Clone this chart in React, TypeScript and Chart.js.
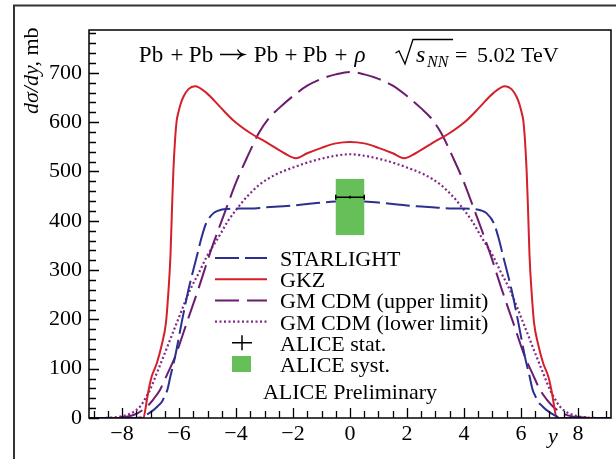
import React, { useEffect, useRef } from 'react';
import { Chart, registerables } from 'chart.js';

Chart.register(...registerables);

// Rapidity distributions of coherent rho photoproduction, Pb+Pb at 5.02 TeV
const starlightY = [-9.2, -7.5, -7.35, -7.2, -7.05, -6.9, -6.75, -6.6, -6.5, -6.41, -6.3, -6.14, -5.91, -5.67, -5.38, -5.2, -5.05, -4.8, -4.6, -4.3, -4.0, -3.5, -3.0, -2.5, -2.0, -1.5, -1.0, -0.5, 0, 0.5, 1.0, 1.5, 2.0, 2.5, 3.0, 3.5, 4.0, 4.3, 4.6, 4.8, 5.05, 5.2, 5.38, 5.67, 5.91, 6.14, 6.3, 6.41, 6.5, 6.6, 6.75, 6.9, 7.05, 7.2, 7.35, 7.5, 9.2];
const starlight = [0, 0, 1, 5, 10, 16, 24, 33, 45, 57, 85, 124, 193, 260, 327, 368, 395, 415, 421, 424, 425, 425, 427, 429, 431, 434, 437, 439, 440, 439, 437, 434, 431, 429, 427, 425, 425, 424, 421, 415, 395, 368, 327, 260, 193, 124, 85, 57, 45, 33, 24, 16, 10, 5, 1, 0, 0];

const gkzY = [-9.2, -7.25, -7.18, -7.12, -7.05, -6.96, -6.78, -6.6, -6.46, -6.38, -6.3, -6.25, -6.2, -6.14, -6.08, -6.03, -5.95, -5.85, -5.67, -5.44, -5.03, -4.56, -4.1, -3.5, -2.9, -2.3, -1.9, -1.5, -1.0, -0.5, 0, 0.5, 1.0, 1.5, 1.9, 2.3, 2.9, 3.5, 4.1, 4.56, 5.03, 5.44, 5.67, 5.85, 5.95, 6.03, 6.08, 6.14, 6.2, 6.25, 6.3, 6.38, 6.46, 6.6, 6.78, 6.96, 7.05, 7.12, 7.18, 7.25, 9.2];
const gkz = [0, 0, 18, 40, 62, 84, 111, 150, 193, 250, 330, 420, 500, 564, 604, 618, 636, 651, 667, 673, 659, 631, 604, 578, 558, 537, 527, 537, 548, 557, 560, 557, 548, 537, 527, 537, 558, 578, 604, 631, 659, 673, 667, 651, 636, 618, 604, 564, 500, 420, 330, 250, 193, 150, 111, 84, 62, 40, 18, 0, 0];

const gmUpperY = [-9.2, -8.6, -8.2, -7.8, -7.48, -7.13, -6.9, -6.67, -6.42, -6.14, -5.73, -5.32, -4.91, -4.6, -4.3, -4.0, -3.6, -3.2, -2.85, -2.5, -2.0, -1.5, -1.0, -0.5, 0, 0.5, 1.0, 1.5, 2.0, 2.5, 2.85, 3.2, 3.6, 4.0, 4.3, 4.6, 4.91, 5.32, 5.73, 6.14, 6.42, 6.67, 6.9, 7.13, 7.48, 7.8, 8.2, 8.6, 9.2];
const gmUpper = [0, 0, 1, 3, 9, 23, 38, 57, 88, 124, 193, 262, 335, 385, 432, 478, 530, 578, 608, 628, 653, 674, 688, 697, 702, 697, 688, 674, 653, 628, 608, 578, 530, 478, 432, 385, 335, 262, 193, 124, 88, 57, 38, 23, 9, 3, 1, 0, 0];

const gmLowerY = [-9.2, -8.7, -8.3, -7.9, -7.6, -7.37, -7.2, -7.02, -6.8, -6.55, -6.08, -5.61, -5.3, -5.03, -4.56, -4.3, -4.0, -3.6, -3.16, -2.6, -2.0, -1.5, -1.0, -0.5, 0, 0.5, 1.0, 1.5, 2.0, 2.6, 3.16, 3.6, 4.0, 4.3, 4.56, 5.03, 5.3, 5.61, 6.08, 6.55, 6.8, 7.02, 7.2, 7.37, 7.6, 7.9, 8.3, 8.7, 9.2];
const gmLower = [0, 0, 1, 5, 12, 23, 38, 57, 88, 124, 193, 260, 295, 327, 372, 398, 422, 450, 474, 494, 508, 518, 526, 532, 535, 532, 526, 518, 508, 494, 474, 450, 422, 398, 372, 327, 295, 260, 193, 124, 88, 57, 38, 23, 12, 5, 1, 0, 0];

// ALICE preliminary measurement at midrapidity
const aliceY = [0];
const aliceHalfWidth = [0.5];
const aliceValue = [448];
const aliceStat = [3];
const aliceSystLow = [371];
const aliceSystHigh = [485];

const xTickLabels = [-8, -6, -4, -2, 0, 2, 4, 6, 8];
const yTickLabels = [0, 100, 200, 300, 400, 500, 600, 700];

const SERIF = '"Liberation Serif", "DejaVu Serif", serif';
const COLORS = {
  starlight: '#2b2f8f',
  gkz: '#d3202a',
  gmUpper: '#6b1c6f',
  gmLower: '#80278a',
  syst: '#66bf59',
};

const toPoints = (xs: number[], ys: number[]) => xs.map((x, i) => ({ x, y: ys[i] }));

const fmtTick = (v: number) => (v < 0 ? '\u2212' + Math.abs(v) : String(v));

export default function App() {
  const ref = useRef<HTMLCanvasElement>(null);

  useEffect(() => {
    const canvas = ref.current;
    if (!canvas) return;

    const decorations = {
      id: 'decorations',
      afterDatasetsDraw(chart: any) {
        const { ctx, chartArea, scales } = chart;
        const xs = scales.x;
        const ys = scales.y;
        ctx.save();
        // systematic box and statistical bar of the measurement
        ctx.beginPath();
        ctx.rect(chartArea.left, chartArea.top, chartArea.right - chartArea.left, chartArea.bottom - chartArea.top);
        ctx.clip();
        aliceY.forEach((yc, i) => {
          const x0 = xs.getPixelForValue(yc - aliceHalfWidth[i]);
          const x1 = xs.getPixelForValue(yc + aliceHalfWidth[i]);
          const yTop = ys.getPixelForValue(aliceSystHigh[i]);
          const yBot = ys.getPixelForValue(aliceSystLow[i]);
          ctx.fillStyle = COLORS.syst;
          ctx.fillRect(x0, yTop, x1 - x0, yBot - yTop);
          const yv = ys.getPixelForValue(aliceValue[i]);
          const xc = xs.getPixelForValue(yc);
          const ya = ys.getPixelForValue(aliceValue[i] + aliceStat[i]);
          const yb = ys.getPixelForValue(aliceValue[i] - aliceStat[i]);
          ctx.strokeStyle = '#000';
          ctx.lineWidth = 1.5;
          ctx.beginPath();
          ctx.moveTo(x0, yv);
          ctx.lineTo(x1, yv);
          ctx.moveTo(x0, yv - 2.5);
          ctx.lineTo(x0, yv + 2.5);
          ctx.moveTo(x1, yv - 2.5);
          ctx.lineTo(x1, yv + 2.5);
          ctx.moveTo(xc, ya);
          ctx.lineTo(xc, yb);
          ctx.stroke();
        });
        ctx.restore();
      },
      afterDraw(chart: any) {
        const { ctx, chartArea, scales } = chart;
        const xs = scales.x;
        const ys = scales.y;
        const { left, right, top, bottom } = chartArea;
        ctx.save();

        // outer panel frame
        ctx.strokeStyle = '#333';
        ctx.lineWidth = 2;
        ctx.beginPath();
        ctx.moveTo(14, chart.height + 2);
        ctx.lineTo(14, 5.5);
        ctx.lineTo(chart.width + 2, 5.5);
        ctx.stroke();

        // plot frame
        ctx.strokeStyle = '#000';
        ctx.lineWidth = 1.5;
        ctx.strokeRect(left, top, right - left, bottom - top);

        // inward tick marks
        ctx.lineWidth = 1.3;
        ctx.beginPath();
        for (let v = 0; v <= ys.max + 1e-6; v += 20) {
          const py = Math.round(ys.getPixelForValue(v)) + 0.5;
          const len = v % 100 === 0 ? 10 : 7;
          ctx.moveTo(left, py);
          ctx.lineTo(left + len, py);
        }
        for (let v = -9; v <= 9 + 1e-6; v += 0.5) {
          const px = Math.round(xs.getPixelForValue(v)) + 0.5;
          const len = Math.abs(v % 2) < 1e-6 ? 10 : 7;
          ctx.moveTo(px, bottom);
          ctx.lineTo(px, bottom - len);
        }
        ctx.stroke();

        ctx.fillStyle = '#000';
        ctx.textBaseline = 'alphabetic';
        ctx.textAlign = 'left';

        // axis titles
        ctx.font = `italic 22px ${SERIF}`;
        ctx.fillText('y', 548, 443);

        ctx.save();
        ctx.translate(38, 114);
        ctx.rotate(-Math.PI / 2);
        ctx.font = `italic 22px ${SERIF}`;
        const lab1 = 'd\u03c3/dy,';
        ctx.fillText(lab1, 0, 0);
        const w1 = ctx.measureText(lab1).width;
        ctx.font = `22px ${SERIF}`;
        ctx.fillText(' mb', w1, 0);
        ctx.restore();

        // reaction, each symbol centred on its slot
        const base = 62;
        const reaction: [string, number, boolean][] = [
          ['Pb', 151, false],
          ['+', 177, false],
          ['Pb', 201, false],
          ['Pb', 266, false],
          ['+', 291, false],
          ['Pb', 315, false],
          ['+', 341, false],
          ['\u03c1', 360, true],
        ];
        ctx.textAlign = 'center';
        reaction.forEach(([t, px, it]) => {
          ctx.font = `${it ? 'italic ' : ''}23px ${SERIF}`;
          ctx.fillText(t, px, base);
        });
        ctx.textAlign = 'left';

        // reaction arrow
        ctx.lineWidth = 1.3;
        ctx.beginPath();
        ctx.moveTo(220, 54.5);
        ctx.lineTo(243.5, 54.5);
        ctx.moveTo(237.5, 49.5);
        ctx.quadraticCurveTo(239.5, 53.5, 244, 54.5);
        ctx.quadraticCurveTo(239.5, 55.5, 237.5, 59.5);
        ctx.stroke();

        // collision energy with a drawn radical sign
        ctx.beginPath();
        ctx.moveTo(395.5, 53);
        ctx.lineTo(399, 51);
        ctx.lineTo(405, 64);
        ctx.lineTo(413, 39.5);
        ctx.lineTo(453, 39.5);
        ctx.stroke();
        ctx.font = `italic 24px ${SERIF}`;
        ctx.fillText('s', 416, base);
        ctx.font = `italic 16px ${SERIF}`;
        ctx.fillText('NN', 427, base + 5);
        ctx.font = `22px ${SERIF}`;
        ctx.fillText('=', 455, base);
        ctx.fillText('5.02 TeV', 477, base);

        // legend
        const ds = chart.data.datasets;
        const rows = [
          { label: 'STARLIGHT', kind: 'line', idx: 0 },
          { label: 'GKZ', kind: 'line', idx: 1 },
          { label: 'GM CDM (upper limit)', kind: 'line', idx: 2 },
          { label: 'GM CDM (lower limit)', kind: 'line', idx: 3 },
          { label: 'ALICE stat.', kind: 'cross', idx: -1 },
          { label: 'ALICE syst.', kind: 'box', idx: -1 },
        ];
        rows.forEach((row, i) => {
          const bl = 266 + i * 21.2;
          const cy = bl - 8;
          if (row.kind === 'line') {
            const d = ds[row.idx];
            ctx.save();
            ctx.strokeStyle = d.borderColor;
            ctx.lineWidth = d.borderWidth;
            ctx.setLineDash(d.borderDash || []);
            ctx.beginPath();
            ctx.moveTo(215, cy);
            ctx.lineTo(267, cy);
            ctx.stroke();
            ctx.restore();
          } else if (row.kind === 'cross') {
            ctx.save();
            ctx.strokeStyle = '#000';
            ctx.lineWidth = 1.5;
            ctx.beginPath();
            ctx.moveTo(232, cy);
            ctx.lineTo(252, cy);
            ctx.moveTo(242, cy - 7.5);
            ctx.lineTo(242, cy + 7.5);
            ctx.stroke();
            ctx.restore();
          } else {
            ctx.fillStyle = COLORS.syst;
            ctx.fillRect(232, cy - 8, 19, 16);
          }
          ctx.fillStyle = '#000';
          ctx.font = `22px ${SERIF}`;
          ctx.textAlign = 'left';
          ctx.fillText(row.label, 280, bl);
        });

        ctx.textAlign = 'center';
        ctx.fillText('ALICE Preliminary', 350, 399);
        ctx.restore();
      },
    };

    const chart = new Chart(canvas, {
      type: 'line',
      data: {
        datasets: [
          {
            label: 'STARLIGHT',
            data: toPoints(starlightY, starlight),
            borderColor: COLORS.starlight,
            borderWidth: 2,
            borderDash: [24, 6],
          },
          {
            label: 'GKZ',
            data: toPoints(gkzY, gkz),
            borderColor: COLORS.gkz,
            borderWidth: 2,
          },
          {
            label: 'GM CDM (upper limit)',
            data: toPoints(gmUpperY, gmUpper),
            borderColor: COLORS.gmUpper,
            borderWidth: 2,
            borderDash: [24, 8],
          },
          {
            label: 'GM CDM (lower limit)',
            data: toPoints(gmLowerY, gmLower),
            borderColor: COLORS.gmLower,
            borderWidth: 2.2,
            borderDash: [2, 2.5],
          },
        ] as any,
      },
      options: {
        responsive: false,
        maintainAspectRatio: false,
        animation: false,
        layout: { padding: { left: 0, right: 5, top: 30, bottom: 0 } },
        elements: {
          point: { radius: 0 },
          line: { cubicInterpolationMode: 'monotone', fill: false },
        },
        plugins: {
          legend: { display: false },
          tooltip: { enabled: false },
          title: { display: false },
        },
        scales: {
          x: {
            type: 'linear',
            min: -9.16,
            max: 9.16,
            grid: { display: false, drawTicks: false },
            border: { display: false },
            afterFit: (s: any) => {
              s.height = 41;
            },
            afterBuildTicks: (s: any) => {
              s.ticks = xTickLabels.map((v) => ({ value: v }));
            },
            ticks: {
              autoSkip: false,
              maxRotation: 0,
              padding: 3,
              color: '#000',
              font: { family: SERIF, size: 22 },
              callback: (v: any) => fmtTick(Number(v)),
            },
          },
          y: {
            type: 'linear',
            min: 0,
            max: 787,
            grid: { display: false, drawTicks: false },
            border: { display: false },
            afterFit: (s: any) => {
              s.width = 89;
            },
            afterBuildTicks: (s: any) => {
              s.ticks = yTickLabels.map((v) => ({ value: v }));
            },
            ticks: {
              autoSkip: false,
              padding: 7,
              color: '#000',
              font: { family: SERIF, size: 22 },
              callback: (v: any) => String(v),
            },
          },
        },
      } as any,
      plugins: [decorations],
    });

    return () => chart.destroy();
  }, []);

  return (
    <div style={{ position: 'fixed', left: 0, top: 0, width: 616, height: 459, background: '#fff' }}>
      <canvas ref={ref} width={616} height={459} style={{ display: 'block', width: 616, height: 459 }} />
    </div>
  );
}
